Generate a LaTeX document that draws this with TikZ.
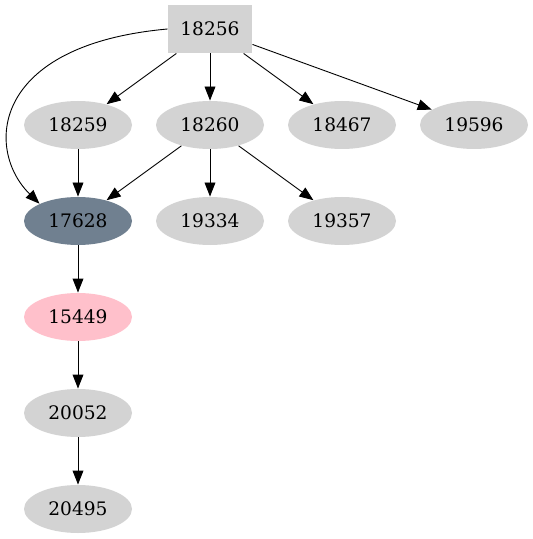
\documentclass[tikz,border=0pt]{standalone}
\usepackage{fontspec}
\setmainfont{DejaVu Serif}
\usepackage{tikz}
\usetikzlibrary{arrows.meta, shapes.geometric, positioning}
\definecolor{nodegray}{HTML}{D3D3D3}
\definecolor{slategray}{HTML}{708090}
\definecolor{pinkfill}{HTML}{FFC0CB}
\tikzstyle{pkg}=[ellipse, fill=nodegray, minimum width=54pt, minimum height=24pt, inner sep=0pt, font=\fontsize{9.3}{11}\selectfont]
\tikzstyle{root}=[rectangle, fill=nodegray, minimum width=42pt, minimum height=24pt, inner sep=0pt, font=\fontsize{9.3}{11}\selectfont]

\begin{document}
\begin{tikzpicture}[->, >={Triangle[length=7pt, width=5.4pt]}, line width=0.45pt, x=0.5pt, y=-0.5pt, node distance=48pt]
    \useasboundingbox (0,0) rectangle (533,539);
    \node[root] (18256) at (210,29)           {18256};
    \node[pkg] (18260) [below of=18256]       {18260};
    \node[pkg] (18259) [left of=18260, node distance=66pt]  {18259};
    \node[pkg] (18467) [right of=18260, node distance=66pt] {18467};
    \node[pkg] (19596) [right of=18467, node distance=66pt] {19596};
    \node[pkg, fill=slategray] (17628) [below of=18259] {17628};
    \node[pkg] (19334) [below of=18260]       {19334};
    \node[pkg] (19357) [below of=18467]       {19357};
    \node[pkg, fill=pinkfill] (15449) [below of=17628] {15449};
    \node[pkg] (20052) [below of=15449]       {20052};
    \node[pkg] (20495) [below of=20052]       {20495};

    \draw (18256.west) .. controls (-10,45) and (-15,150) .. (17628.north west);
    \path
      (18256) edge (18259)
      (18256) edge (18260)
      (18256) edge (18467)
      (18256) edge (19596)
      (18259) edge (17628)
      (18260) edge (17628)
      (18260) edge (19334)
      (18260) edge (19357)
      (17628) edge (15449)
      (15449) edge (20052)
      (20052) edge (20495);
  \end{tikzpicture}
\end{document}
